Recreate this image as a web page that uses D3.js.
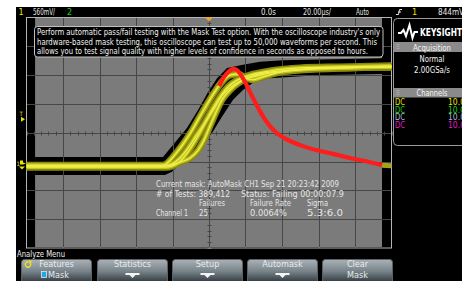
<!DOCTYPE html>
<html>
<head>
<meta charset="utf-8">
<script src="https://cdn.jsdelivr.net/npm/d3@7"></script>
<style>
  body { margin: 0; background: #fff; }
  svg { display: block; }
  text { font-family: "Liberation Sans Narrow", "DejaVu Sans Condensed", "Arial Narrow", sans-serif; }
</style>
</head>
<body>
<svg id="scope"></svg>
<script>
// time in µs (20 µs/div), channel 1 in volts (560 mV/div)
const timeGrid = [-100, -80, -60, -40, -20, 0, 20, 40, 60, 80, 100];
const voltGrid = [-2.24, -1.68, -1.12, -0.56, 0, 0.56, 1.12, 1.68, 2.24];

// edges of the black pass corridor cut out of the gray mask
const maskUpper = [[-95.3,-0.47],[-25.2,-0.47],[-17.5,-0.14],[-12.1,0.09],[-6.0,0.44],[-0.5,0.79],
  [4.4,1.06],[9.9,1.26],[18.6,1.32],[27.9,1.38],[40.5,1.41],[94.8,1.45]];
const maskLower = [[-95.3,-0.82],[-24.1,-0.82],[-20.3,-0.76],[-15.9,-0.61],[-10.4,-0.49],[-6.6,-0.34],
  [1.6,-0.01],[7.1,0.31],[13.2,0.64],[18.6,0.83],[24.1,0.97],[33.4,1.06],[59.2,1.12],[94.8,1.14]];

// passing acquisitions (yellow)
const traceA = [[-100,-0.65],[-24.1,-0.65],[-20.3,-0.61],[-15.9,-0.49],[-11.5,-0.30],[-7.1,-0.06],[-2.7,0.17],
  [1.6,0.44],[6.0,0.69],[10.4,0.89],[15.9,1.03],[22.5,1.12],[33.4,1.20],[49.9,1.26],[71.8,1.28],[100,1.30]];
const traceB = [[-100,-0.65],[-26.8,-0.65],[-23.6,-0.61],[-19.2,-0.45],[-14.8,-0.25],[-10.4,-0.02],[-6.0,0.25],
  [-1.6,0.52],[2.7,0.77],[7.1,0.99],[11.5,1.12],[15.9,1.14],[20.3,1.06],[24.1,1.03],[29.0,1.08],[38.9,1.18],[60,1.25],[100,1.28]];
const traceC = [[-100,-0.63],[-21.4,-0.63],[-15.9,-0.57],[-10.4,-0.49],[-6.0,-0.34],[-2.2,-0.10],[0.5,0.13],
  [3.8,0.40],[7.1,0.64],[11.5,0.83],[17.0,0.99],[25.2,1.12],[38.9,1.20],[66.3,1.26],[100,1.28]];
const traceD = [[-100,-0.67],[-23.6,-0.67],[-17.0,-0.59],[-11.5,-0.37],[-6.0,-0.06],[-1.1,0.25],[3.3,0.50],
  [7.1,0.72],[11.5,0.87],[17.5,1.01],[27.9,1.12],[49.9,1.22],[100,1.28]];
const passTraces = [traceA, traceB, traceC, traceD];

// failing acquisition (red), and its part outside the mask area
const failTrace = [[5.5,0.91],[8.2,1.08],[11.0,1.20],[13.2,1.24],[15.3,1.22],[17.5,1.12],[19.7,0.99],[22.5,0.79],
  [25.2,0.60],[27.9,0.42],[30.1,0.29],[33.4,0.13],[37.3,-0.01],[41.1,-0.10],[44.4,-0.16],[51.5,-0.26],
  [59.2,-0.34],[67.9,-0.41],[77.3,-0.49],[85.5,-0.55],[94.8,-0.63]];
const failTail = [[94.8,-0.63],[100,-0.64]];

const infoLines = [
  "Perform automatic pass/fail testing with the Mask Test option. With the oscilloscope industry's only",
  "hardware-based mask testing, this oscilloscope can test up to 50,000 waveforms per second. This",
  "allows you to test signal quality with higher levels of confidence in seconds as opposed to hours."
];
const maskHeader = "Current mask: AutoMask CH1 Sep 21 20:23:42 2009";
const testCount = "# of Tests: 389,412";
const testStatus = "Status: Failing 00:00:07.9";
const statHeads = ["Failures", "Failure Rate", "Sigma"];
const statValues = ["Channel 1", "25", "0.0064%", "5.3:6.0"];

const channelRows = [["DC", "10.0"], ["DC", "10.0"], ["DC", "10.0"], ["DC", "10.0"]];
const channelColors = ["#e6e600", "#10d810", "#a9b6d4", "#e01cc8"];
const softkeys = [["Features", "Mask"], ["Statistics", null], ["Setup", null], ["Automask", null], ["Clear", "Mask"]];

const W = 462, H = 281;
const svg = d3.select("#scope").attr("width", W).attr("height", H);

const x = d3.scaleLinear().domain([-100, 100]).range([26.5, 391.5]);
const y = d3.scaleLinear().domain([-2.24, 2.24]).range([248, 17.5]);
const line = d3.line().x(d => x(d[0])).y(d => y(d[1])).curve(d3.curveMonotoneX);

function label(g, px, py, str, o) {
  o = o || {};
  const t = g.append("text").attr("x", px).attr("y", py).text(str)
    .attr("fill", o.fill || "#e6e6e6").attr("font-size", o.size || 9);
  if (o.len) t.attr("textLength", o.len).attr("lengthAdjust", "spacingAndGlyphs");
  if (o.anchor) t.attr("text-anchor", o.anchor);
  if (o.weight) t.attr("font-weight", o.weight);
  return t;
}

// screen
svg.append("rect").attr("x", 16).attr("y", 7).attr("width", W - 16).attr("height", H - 7).attr("fill", "#000");

// mask: gray everywhere, black corridor where waveforms may pass
svg.append("rect")
  .attr("x", x(-95.3)).attr("y", y(2.24) + 0.5)
  .attr("width", x(94.8) - x(-95.3)).attr("height", y(-2.24) - y(2.24) - 1.5)
  .attr("fill", "#7b7b7b");
const corridor = maskUpper.concat(maskLower.slice().reverse());
svg.append("path")
  .attr("d", d3.line().x(d => x(d[0])).y(d => y(d[1]))(corridor) + "Z")
  .attr("fill", "#000");

// graticule
const grid = svg.append("g").attr("stroke", "#474747").attr("stroke-width", 1);
timeGrid.slice(1, -1).forEach(t => {
  grid.append("line").attr("x1", Math.round(x(t)) + 0.5).attr("x2", Math.round(x(t)) + 0.5)
    .attr("y1", y(2.24)).attr("y2", y(-2.24));
});
voltGrid.slice(1, -1).forEach(v => {
  grid.append("line").attr("y1", Math.round(y(v)) + 0.5).attr("y2", Math.round(y(v)) + 0.5)
    .attr("x1", x(-100)).attr("x2", x(100));
});
d3.range(-100, 100.1, 4).forEach(t => {
  grid.append("line").attr("x1", Math.round(x(t)) + 0.5).attr("x2", Math.round(x(t)) + 0.5)
    .attr("y1", Math.round(y(0)) - 1.5).attr("y2", Math.round(y(0)) + 2.5);
});
d3.range(-20, 21).forEach(k => {
  const py = Math.round(y(k * 0.112)) + 0.5;
  grid.append("line").attr("y1", py).attr("y2", py)
    .attr("x1", Math.round(x(0)) - 1.5).attr("x2", Math.round(x(0)) + 2.5);
});
svg.append("rect").attr("x", x(-100)).attr("y", y(2.24))
  .attr("width", x(100) - x(-100)).attr("height", y(-2.24) - y(2.24))
  .attr("fill", "none").attr("stroke", "#b4b4b4");

// waveforms
const waves = svg.append("g").attr("fill", "none").attr("stroke-linejoin", "round");
passTraces.forEach(tr => waves.append("path").attr("d", line(tr)).attr("stroke", "#8a8a12").attr("stroke-width", 7));
passTraces.forEach(tr => waves.append("path").attr("d", line(tr)).attr("stroke", "#c4c41e").attr("stroke-width", 3.6));
passTraces.forEach(tr => waves.append("path").attr("d", line(tr)).attr("stroke", "#f0f04c").attr("stroke-width", 1.2));
waves.append("path").attr("d", line(failTail)).attr("stroke", "#a4a418").attr("stroke-width", 5);
waves.append("path").attr("d", line(failTrace)).attr("stroke", "#ff1c1c").attr("stroke-width", 4.2);

// trigger marker on top edge
svg.append("path").attr("d", `M${x(0) - 4},${y(2.24)} L${x(0) + 4},${y(2.24)} L${x(0)},${y(2.24) + 4}Z`).attr("fill", "#f2a51c");

// info box
svg.append("rect").attr("x", 34.5).attr("y", 26.5).attr("width", 348.5).attr("height", 30.5).attr("rx", 3)
  .attr("fill", "#000").attr("stroke", "#c0c0c0");
const infoLen = [343, 340, 331];
infoLines.forEach((s, i) => label(svg, 37, 35 + i * 9.6, s, { size: 9.5, fill: "#f2f2f2", len: infoLen[i] }));

// mask statistics
const st = svg.append("g");
label(st, 156, 187, maskHeader, { size: 9.5, len: 183 });
label(st, 156, 196.5, testCount, { size: 9.5, len: 74 });
label(st, 241, 196.5, testStatus, { size: 9.5, len: 103 });
const headX = [199, 250, 307], headLen = [26, 41, 21];
statHeads.forEach((s, i) => label(st, headX[i], 206, s, { size: 9.5, len: headLen[i] }));
const valX = [156, 199, 250, 307], valLen = [32, 9, 37, 36];
statValues.forEach((s, i) => label(st, valX[i], 215.5, s, { size: 9.5, len: valLen[i] }));

// top status bar
label(svg, 18.5, 15, "1", { fill: "#e6e600", size: 9 });
label(svg, 33, 15, "560mV/", { size: 9, len: 22 });
label(svg, 67, 15, "2", { fill: "#18d018", size: 9 });
label(svg, 261, 15, "0.0s", { size: 9, len: 15 });
label(svg, 303, 15, "20.00µs/", { size: 9, len: 28 });
label(svg, 356, 15, "Auto", { size: 9, len: 13 });
svg.append("path").attr("d", "M396,14.5 L398.5,14.5 L399.5,9.5 L402,9.5 M398,12 L401,12")
  .attr("stroke", "#e6e6e6").attr("fill", "none").attr("stroke-width", 1);
label(svg, 412, 15, "1", { fill: "#e6e600", size: 9 });
label(svg, 438, 15, "844mV", { size: 9, len: 26 });

// left-side markers
const mk = svg.append("g").attr("fill", "#e6e600");
label(mk, 19.5, 116, "T", { fill: "#e6e600", size: 6 });
mk.append("path").attr("d", `M21,${y(0.26) - 2.5} L25,${y(0.26)} L21,${y(0.26) + 2.5}Z`);
label(mk, 16.5, 166, "1", { fill: "#e6e600", size: 6 });
mk.append("path").attr("d", `M20,${y(-0.6) - 3} L23,${y(-0.6) - 3} L23,${y(-0.6) - 1} L26,${y(-0.6)} L23,${y(-0.6) + 1} L20,${y(-0.6) + 1}Z`);
mk.append("path").attr("d", `M19,${y(-0.6) + 3} L25,${y(-0.6) + 3} L22,${y(-0.6) + 6}Z`);

// right panel
const pnl = svg.append("g");
pnl.append("rect").attr("x", 393.5).attr("y", 18.5).attr("width", 80).attr("height", 127).attr("rx", 4)
  .attr("fill", "#000").attr("stroke", "#9a9a9a");
pnl.append("path").attr("d", "M398,33 L401,33 L403.5,30 L406,36 L409.5,25 L412.5,38 L414.5,32 L418,32")
  .attr("fill", "none").attr("stroke", "#fff").attr("stroke-width", 2).attr("stroke-linejoin", "miter");
label(pnl, 420, 35.5, "KEYSIGHT", { fill: "#fff", size: 10, weight: "bold", len: 42 });
pnl.append("rect").attr("x", 394).attr("y", 42).attr("width", 70).attr("height", 10).attr("fill", "#8a8a8a");
pnl.append("rect").attr("x", 394).attr("y", 88).attr("width", 70).attr("height", 9.5).attr("fill", "#8a8a8a");
[44.5, 46.5, 48.5, 90.5, 92.5, 94.5].forEach(py => pnl.append("line").attr("x1", 396.5).attr("x2", 399.5)
  .attr("y1", py).attr("y2", py).attr("stroke", "#a8a8a8"));
label(pnl, 432, 50.5, "Acquisition", { anchor: "middle", size: 8.5, fill: "#f4f4f4", len: 38 });
label(pnl, 432, 62, "Normal", { anchor: "middle", size: 8.5, fill: "#f4f4f4", len: 25 });
label(pnl, 432, 73, "2.00GSa/s", { anchor: "middle", size: 8.5, fill: "#f4f4f4", len: 36 });
label(pnl, 432, 95.5, "Channels", { anchor: "middle", size: 8.5, fill: "#f4f4f4", len: 31 });
channelRows.forEach((r, i) => {
  label(pnl, 395, 105 + i * 7.7, r[0], { fill: channelColors[i], size: 8, len: 10 });
  label(pnl, 448, 105 + i * 7.7, r[1], { fill: channelColors[i], size: 8, len: 17 });
});

// softkey menu
label(svg, 17, 257, "Analyze Menu", { size: 9, fill: "#f0f0f0", len: 48 });
const defs = svg.append("defs");
const grad = defs.append("linearGradient").attr("id", "key").attr("x1", 0).attr("y1", 0).attr("x2", 0).attr("y2", 1);
grad.append("stop").attr("offset", "0%").attr("stop-color", "#aab2b6");
grad.append("stop").attr("offset", "45%").attr("stop-color", "#78838a");
grad.append("stop").attr("offset", "100%").attr("stop-color", "#1c242a");
const keyX = [21, 97, 172, 247, 322];
softkeys.forEach((k, i) => {
  const kx = keyX[i], cx = kx + 35.5;
  svg.append("rect").attr("x", kx + 0.5).attr("y", 259.5).attr("width", 70).attr("height", 26).attr("rx", 3)
    .attr("fill", "url(#key)").attr("stroke", "#5a6268");
  label(svg, cx, 266.5, k[0], { anchor: "middle", size: 9, fill: "#e8ecee" });
  if (k[1] && i === 0) {
    svg.append("rect").attr("x", 41.5).attr("y", 271.5).attr("width", 5).attr("height", 6)
      .attr("fill", "#1ea8e8").attr("stroke", "#dfe8ee").attr("stroke-width", 0.8);
    label(svg, 48, 278, k[1], { size: 9, fill: "#e8ecee" });
  } else if (k[1]) {
    label(svg, cx, 278, k[1], { anchor: "middle", size: 9, fill: "#e8ecee" });
  } else {
    svg.append("path").attr("d", `M${cx - 7},273 L${cx + 7},273 L${cx + 7},275 L${cx + 3},275 L${cx},278 L${cx - 3},275 L${cx - 7},275Z`)
      .attr("fill", "#f4f4f4");
  }
});
// cycle icon on the Features key
svg.append("path").attr("d", d3.arc()({ innerRadius: 2, outerRadius: 3.4, startAngle: 0.9, endAngle: 2 * Math.PI + 0.2 }))
  .attr("transform", "translate(28,264.5)").attr("fill", "#f0e020");
svg.append("path").attr("d", "M29.5,259.8 L32.5,262 L29,263.4Z").attr("fill", "#f0e020");
</script>
</body>
</html>
